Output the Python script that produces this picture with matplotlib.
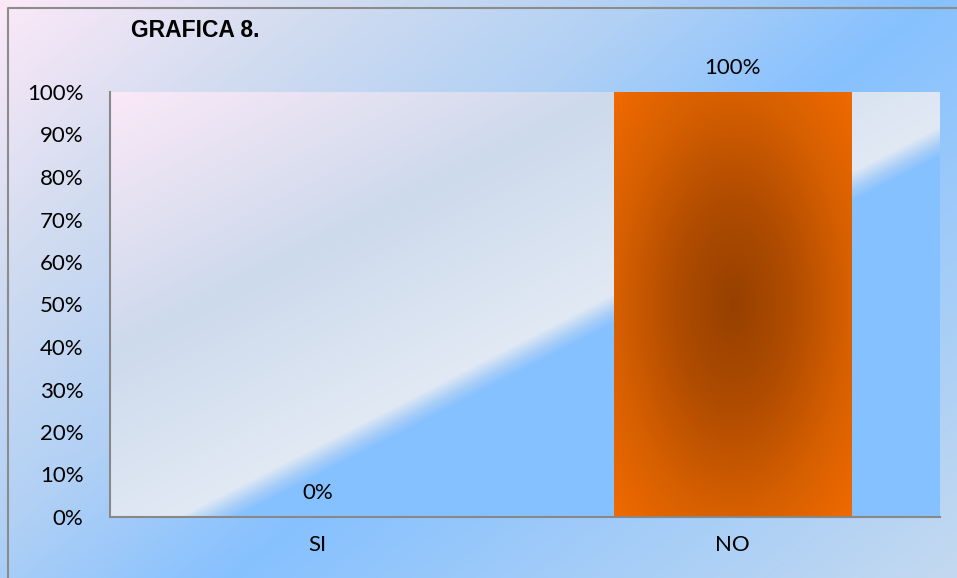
import numpy as np
import matplotlib.pyplot as plt
from matplotlib.colors import to_rgb

# chart data
categories = ['SI', 'NO']
values = [0.0, 1.0]
value_labels = ['0%', '100%']
yticks = [0.0, 0.1, 0.2, 0.3, 0.4, 0.5, 0.6, 0.7, 0.8, 0.9, 1.0]
ytick_labels = ['0%', '10%', '20%', '30%', '40%', '50%', '60%', '70%', '80%', '90%', '100%']
title = 'GRAFICA 8.'

W, H = 957, 578
FONT = ['Lato', 'DejaVu Sans']


def blend(stops, t):
    # linear colour ramp through (position, colour) stops
    pos = [p for p, c in stops]
    cols = np.array([to_rgb(c) for p, c in stops])
    out = np.empty(t.shape + (3,))
    for k in range(3):
        out[..., k] = np.interp(t, pos, cols[:, k])
    return out


fig = plt.figure(figsize=(W / 100, H / 100), dpi=100)

# figure background: diagonal gradient pink -> blue -> light blue
bg = fig.add_axes([0, 0, 1, 1], zorder=-10)
yy, xx = np.mgrid[0:H, 0:W]
s = (550.0 * xx + 670.0 * yy) / 512700.0
bg.imshow(blend([(0, '#fce9f8'), (0.35, '#d2dcf0'), (0.7, '#b0d0f5'), (1.0, '#86c1ff'),
                 (1.78, '#c4d9f0')], s),
          extent=(0, W, H, 0), aspect='auto')
bg.plot([8, 8, W], [H, 8, 8], color='#8c8c8c', lw=1.5)
bg.set_xlim(0, W)
bg.set_ylim(H, 0)
bg.axis('off')

# plot area
L, R, T, B = 110, 940, 92, 517
ax = fig.add_axes([L / W, (H - B) / H, (R - L) / W, (B - T) / H])
x = np.arange(len(categories))
ax.set_xlim(-0.5, len(categories) - 0.5)
ax.set_ylim(0, 1)

# plot area fill with the diagonal light band
py, px = np.mgrid[T:B, L:R]
d = (505 - 0.5125 * (px - 200)) - py
area = blend([(-30, '#86c1ff'), (-18, '#a6cdf8'), (0, '#e1e9f4'), (200, '#cddaec'), (460, '#fbe9f8')], d)
ax.imshow(area, extent=(-0.5, len(categories) - 0.5, 0, 1), aspect='auto', zorder=0)

bars = ax.bar(x, values, width=0.573, color='none', zorder=2)
for b in bars:
    w, h = b.get_width(), b.get_height()
    if h <= 0:
        continue
    u, v = np.meshgrid(np.linspace(-1, 1, 240), np.linspace(-1, 1, 400))
    r = np.sqrt(u ** 2 + v ** 2) / np.sqrt(2)
    grad = blend([(0, '#964000'), (0.35, '#b04c00'), (0.707, '#d86000'), (1, '#f06a00')], r)
    ax.imshow(grad, extent=(b.get_x(), b.get_x() + w, b.get_y(), b.get_y() + h),
              aspect='auto', zorder=2)

for xi, v, lab in zip(x, values, value_labels):
    ax.annotate(lab, (xi, v), xytext=(0, 13), textcoords='offset points',
                ha='center', va='baseline', fontsize=16, family=FONT)

ax.set_xticks(x)
ax.set_xticklabels(categories, fontsize=16, family=FONT)
ax.set_yticks(yticks)
ax.set_yticklabels(ytick_labels, fontsize=16, family=FONT)
ax.tick_params(axis='y', length=0, pad=19)
ax.tick_params(axis='x', length=0, pad=13)

for side in ['top', 'right']:
    ax.spines[side].set_visible(False)
for side in ['left', 'bottom']:
    ax.spines[side].set_color('#888888')
    ax.spines[side].set_linewidth(1.5)
    ax.spines[side].set_zorder(3)

fig.text(131 / W, 1 - 37 / H, title, fontsize=16.5, fontweight='bold',
         family=['Liberation Sans', 'DejaVu Sans'], va='baseline', ha='left')

fig.savefig('out.png', dpi=100)
